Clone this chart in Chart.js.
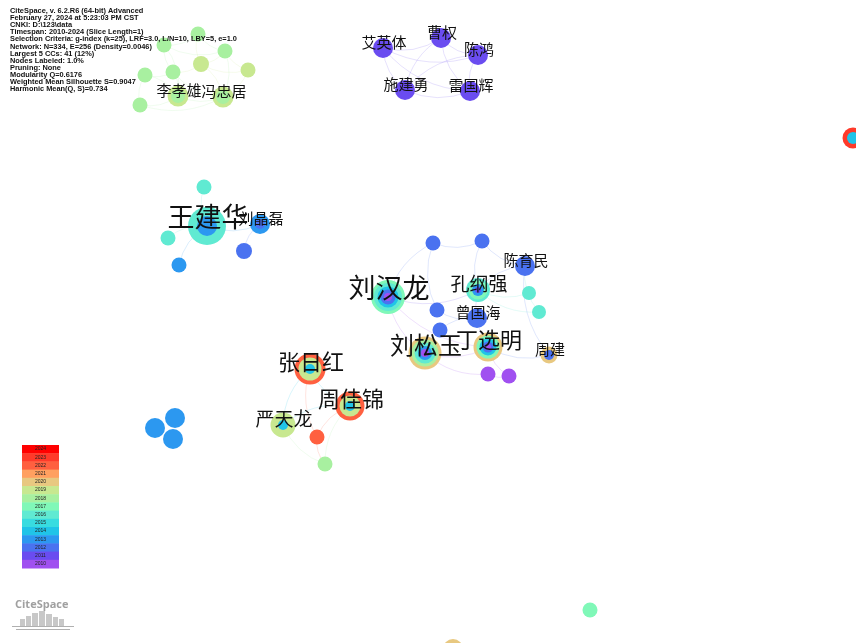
<!DOCTYPE html>
<html>
<head>
<meta charset="utf-8">
<script src="https://cdn.jsdelivr.net/npm/chart.js@4.4.1/dist/chart.umd.min.js"></script>
<style>
html,body{margin:0;padding:0;background:#fff;overflow:hidden;}
canvas{display:block;}
</style>
</head>
<body>
<canvas id="c" width="856" height="643"></canvas>
<script>
// ---- data ----
const years = [2024,2023,2022,2021,2020,2019,2018,2017,2016,2015,2014,2013,2012,2011,2010];
const yearColors = ['#FF0000','#FF3A2A','#FF6040','#FFA060','#E8C880','#C8E890','#A8F0A0','#80F8B8','#60EAD2','#38DCE0','#20C4E8','#2C98F0','#4A72F0','#6A4CF0','#A050F0'];

const nodeNames = ['','','','','','','','','李孝雄','冯忠居',
  '艾英体','曹权','陈鸿','施建勇','雷国辉',
  '',
  '','王建华','','刘晶磊','','',
  '','','陈育民','刘汉龙','孔纲强','','','','曾国海','','刘松玉','丁选明','周建','','',
  '张日红','周佳锦','严天龙','','','','','',
  '',''];
const nodeX = [164,198,225,145,173,201,248,140,178,223,
  383,441,478,405,470,
  853,
  204,207,168,260,244,179,
  433,482,525,388,478,529,539,437,477,440,425,488,549,488,509,
  310,350,283,317,325,175,155,173,
  590,453];
const nodeY = [45,34,51,75,72,64,70,105,96,97,
  48,38,55,90,91,
  138,
  187,226,238,224,251,265,
  243,241,266,297,290,293,312,310,318,330,353,347,355,374,376,
  369,406,425,437,464,418,428,439,
  610,649];
// tree rings: year of each ring, outer to inner
const ringYears = [[2018],[2018],[2018],[2018],[2018],[2019],[2019],[2018],[2019,2018],[2019,2018],
  [2011],[2011],[2011],[2011],[2011],
  [2023,2014],
  [2016],[2016,2013],[2016],[2013,2012],[2012],[2013],
  [2012],[2012],[2012],[2017,2016,2014,2012,2010],[2016,2017,2013,2011],[2016],[2016],[2012],[2012],[2012],
  [2020,2018,2016,2013,2010],[2020,2017,2014,2012,2010],[2020,2012],[2010],[2010],
  [2022,2019,2014],[2022,2019,2014],[2019,2014],[2022],[2018],[2013],[2013],[2013],
  [2017],[2020]];
const ringSizes = [[7.5],[7.5],[7.5],[7.5],[7.5],[8],[7.5],[7.5],[10.5,7],[10.5,7],
  [10],[10],[10],[10],[10],
  [10.5,6],
  [7.5],[19,10],[7.5],[10,5],[8],[7.5],
  [7.5],[7.5],[10],[17,14,10.5,7.5,4],[12,9.5,6,3],[7],[7],[7.5],[10],[7.5],
  [16.5,13.5,10.5,7,4],[14.5,11.5,8.5,5.5,3],[8.5,5],[7.5],[7.5],
  [15.5,11.5,5],[14.5,10.5,5],[12.5,5],[7.5],[7.5],[10],[10],[10],
  [7.5],[10]];
const labelSizes = [0,0,0,0,0,0,0,0,15,15, 15,15,15,15,15, 0, 0,27,0,15,0,0,
  0,0,15,27,19,0,0,0,15,0,24,22,15,0,0, 22,22,19,0,0,0,0,0, 0,0];
const edges = [[0,1],[1,2],[0,4],[3,4],[4,5],[5,2],[5,6],[2,6],[8,9],[8,4],[9,5],[8,3],[9,6],[7,8],[3,7],[4,9],[0,2],[1,5],[8,0],[9,2],[7,9],
  [10,11],[10,12],[10,13],[10,14],[11,12],[11,13],[11,14],[12,13],[12,14],[13,14],
  [16,17],[17,18],[17,21],[19,20],[17,19],
  [22,23],[22,25],[23,24],[24,26],[25,26],[26,27],[26,28],[24,28],[26,33],[29,30],[30,31],[25,32],[32,33],[33,34],[32,35],[33,36],[35,36],[25,33],[22,29],[23,26],[24,34],
  [37,38],[37,39],[38,39],[38,40],[39,41],[40,41],[38,41],[37,40]];
const infoLines = ['CiteSpace, v. 6.2.R6 (64-bit) Advanced','February 27, 2024 at 5:23:03 PM CST','CNKI: D:\\123\\data',
  'Timespan: 2010-2024 (Slice Length=1)','Selection Criteria: g-index (k=25), LRF=3.0, L/N=10, LBY=5, e=1.0',
  'Network: N=334, E=256 (Density=0.0046)','Largest 5 CCs: 41 (12%)','Nodes Labeled: 1.0%','Pruning: None',
  'Modularity Q=0.6176','Weighted Mean Silhouette S=0.9047','Harmonic Mean(Q, S)=0.734'];

// ---- build datasets ----
function colorOf(y){ return yearColors[years.indexOf(y)]; }
const maxLayers = Math.max(...ringYears.map(r=>r.length));
const datasets = [];
for (let k=0;k<maxLayers;k++){
  const pts=[], cols=[];
  for (let i=0;i<nodeX.length;i++){
    if (ringYears[i].length>k){
      pts.push({x:nodeX[i], y:nodeY[i], r:ringSizes[i][k]});
      cols.push(colorOf(ringYears[i][k]));
    }
  }
  datasets.push({data:pts, backgroundColor:cols, borderWidth:0, hoverRadius:0, order:maxLayers-k, clip:false});
}

function hexA(h,a){const n=parseInt(h.slice(1),16);return `rgba(${n>>16&255},${n>>8&255},${n&255},${a})`;}

const netPlugin = {
  id:'net',
  beforeDatasetsDraw(chart){
    const ctx=chart.ctx, xs=chart.scales.x, ys=chart.scales.y;
    ctx.save();
    ctx.lineWidth=1;
    edges.forEach(([a,b])=>{
      const x1=xs.getPixelForValue(nodeX[a]), y1=ys.getPixelForValue(nodeY[a]);
      const x2=xs.getPixelForValue(nodeX[b]), y2=ys.getPixelForValue(nodeY[b]);
      const mx=(x1+x2)/2, my=(y1+y2)/2, dx=x2-x1, dy=y2-y1;
      const cx=mx-dy*0.22, cy=my+dx*0.22;
      const ya=ringYears[a][ringYears[a].length-1], yb=ringYears[b][ringYears[b].length-1];
      ctx.strokeStyle=hexA(colorOf(Math.max(ya,yb)),0.17);
      ctx.beginPath();ctx.moveTo(x1,y1);ctx.quadraticCurveTo(cx,cy,x2,y2);ctx.stroke();
    });
    ctx.restore();
  },
  afterDatasetsDraw(chart){
    const ctx=chart.ctx, xs=chart.scales.x, ys=chart.scales.y;
    ctx.save();
    // labels
    ctx.fillStyle='#111';ctx.textAlign='center';ctx.textBaseline='middle';
    for(let i=0;i<nodeNames.length;i++){
      if(!nodeNames[i])continue;
      const s=labelSizes[i];
      ctx.font=`${s}px "Noto Sans CJK SC", sans-serif`;
      ctx.fillText(nodeNames[i], xs.getPixelForValue(nodeX[i])+1, ys.getPixelForValue(nodeY[i])-s*0.35);
    }
    // info text
    ctx.textAlign='left';ctx.textBaseline='middle';ctx.fillStyle='#111';
    ctx.font='bold 7.4px "Liberation Sans", Arial, sans-serif';
    infoLines.forEach((t,i)=>ctx.fillText(t,10,11+i*7.1));
    // year legend
    const lx=22, lw=37, ltop=445, lh=8.2;
    years.forEach((y,i)=>{
      ctx.fillStyle=yearColors[i];
      ctx.fillRect(lx, ltop+i*lh, lw, lh+0.5);
    });
    ctx.fillStyle='#222';ctx.textAlign='center';
    ctx.font='5px "Liberation Sans", Arial, sans-serif';
    years.forEach((y,i)=>ctx.fillText(String(y), lx+lw/2, ltop+i*lh+lh/2));
    // logo
    ctx.fillStyle='#a0a0a0';ctx.textAlign='left';
    ctx.font='bold 11px "Open Sans", "DejaVu Sans", sans-serif';
    ctx.fillText('CiteSpace',15,605);
    ctx.fillStyle='#c8c8c8';
    const bars=[[20,619,5,7],[26,616,5,10],[32,613,6,13],[39,611,6,15],[46,614,6,12],[53,617,5,9],[59,619,5,7]];
    bars.forEach(b=>ctx.fillRect(b[0],b[1],b[2],b[3]));
    ctx.fillStyle='#b0b0b0';
    ctx.fillRect(12,626,62,1);ctx.fillRect(16,629,54,1);
    ctx.restore();
  }
};

new Chart(document.getElementById('c'),{
  type:'bubble',
  data:{datasets},
  options:{
    responsive:false, animation:false, events:[],
    layout:{padding:0, autoPadding:false},
    plugins:{legend:{display:false},tooltip:{enabled:false}},
    scales:{
      x:{type:'linear',min:0,max:856,display:false},
      y:{type:'linear',min:0,max:643,reverse:true,display:false}
    }
  },
  plugins:[netPlugin]
});
</script>
</body>
</html>
